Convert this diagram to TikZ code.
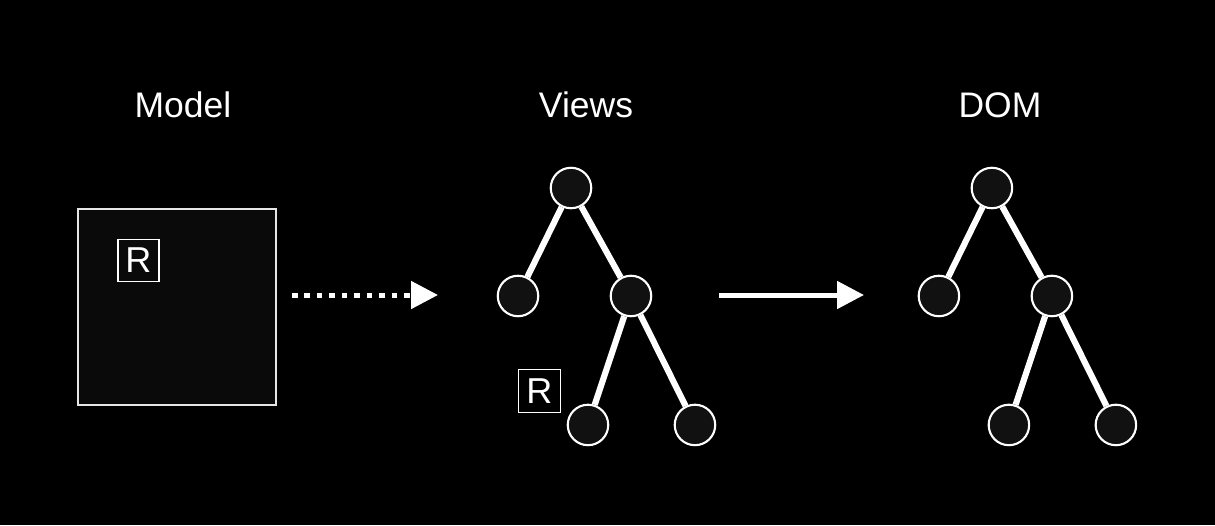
\documentclass[tikz,border=0pt]{standalone}
\usepackage{fontspec}
\setmainfont{Liberation Sans}
\usepackage{tikz}
\usetikzlibrary{positioning,arrows.meta}
\definecolor{boxfill}{HTML}{0A0A0A}
\definecolor{nodefill}{HTML}{111111}
\definecolor{boxline}{HTML}{E6E6E6}
\tikzset{
title/.style={
text=white,
anchor=base,
inner sep=0pt,
font=\fontsize{20.2}{23}\selectfont
},
modelbox/.style={
draw=boxline,
line width=1.2pt,
fill=boxfill,
minimum width=3.96cm,
minimum height=3.92cm,
inner sep=0pt
},
rbox/.style={
draw=white,
line width=1.1pt,
text=white,
minimum width=0.82cm,
minimum height=0.84cm,
inner sep=0pt,
font=\fontsize{20.5}{22}\selectfont
},
vnode/.style={
circle,
draw=white,
line width=1.2pt,
fill=nodefill,
minimum size=0.81cm,
inner sep=0pt
},
edge/.style={
white,
line width=3.5pt
},
arrow/.style={
-{Triangle[length=0.54cm,width=0.54cm]},
white,
line width=2.85pt
},
dotarrow/.style={
arrow,
dash pattern=on 0.11cm off 0.14cm
}
}
\begin{document}
\begin{tikzpicture}[x=0.02cm,y=-0.02cm,on grid]
\fill[black] (0,0) rectangle (1215,525);
\useasboundingbox (0,0) rectangle (1215,525);

% titles
\node[title] (tmodel) at (183,117) {Model};
\node[title] (tviews) at (586,117) {Views};
\node[title] (tdom) at (1000,117) {DOM};

% model
\node[modelbox] (model) at (177,307) {};
\node[rbox] (rmodel) at (138.5,260.5) {R};

% views tree
\node[vnode] (v1) at (571,188) {};
\node[vnode,below left=2.16cm and 1.06cm of v1] (v2) {};
\node[vnode,below right=2.16cm and 1.2cm of v1] (v3) {};
\node[vnode,below left=2.58cm and 0.86cm of v3] (v4) {};
\node[vnode,below right=2.58cm and 1.28cm of v3] (v5) {};
\node[rbox,minimum width=0.84cm,minimum height=0.86cm] (rviews) at (539.5,391) {R};

% dom tree
\node[vnode,right=8.42cm of v1] (d1) {};
\node[vnode,below left=2.16cm and 1.06cm of d1] (d2) {};
\node[vnode,below right=2.16cm and 1.2cm of d1] (d3) {};
\node[vnode,below left=2.58cm and 0.86cm of d3] (d4) {};
\node[vnode,below right=2.58cm and 1.28cm of d3] (d5) {};

\foreach \x/\y in {v1/v2,v1/v3,v3/v4,v3/v5,d1/d2,d1/d3,d3/d4,d3/d5}
\draw[edge](\x)--(\y);

% arrows
\coordinate (a1) at (292,295);
\coordinate (a2) at (438,295);
\coordinate (b1) at (719,295);
\coordinate (b2) at (864,295);
\draw[dotarrow](a1)--(a2);
\draw[arrow](b1)--(b2);
\end{tikzpicture}
\end{document}
